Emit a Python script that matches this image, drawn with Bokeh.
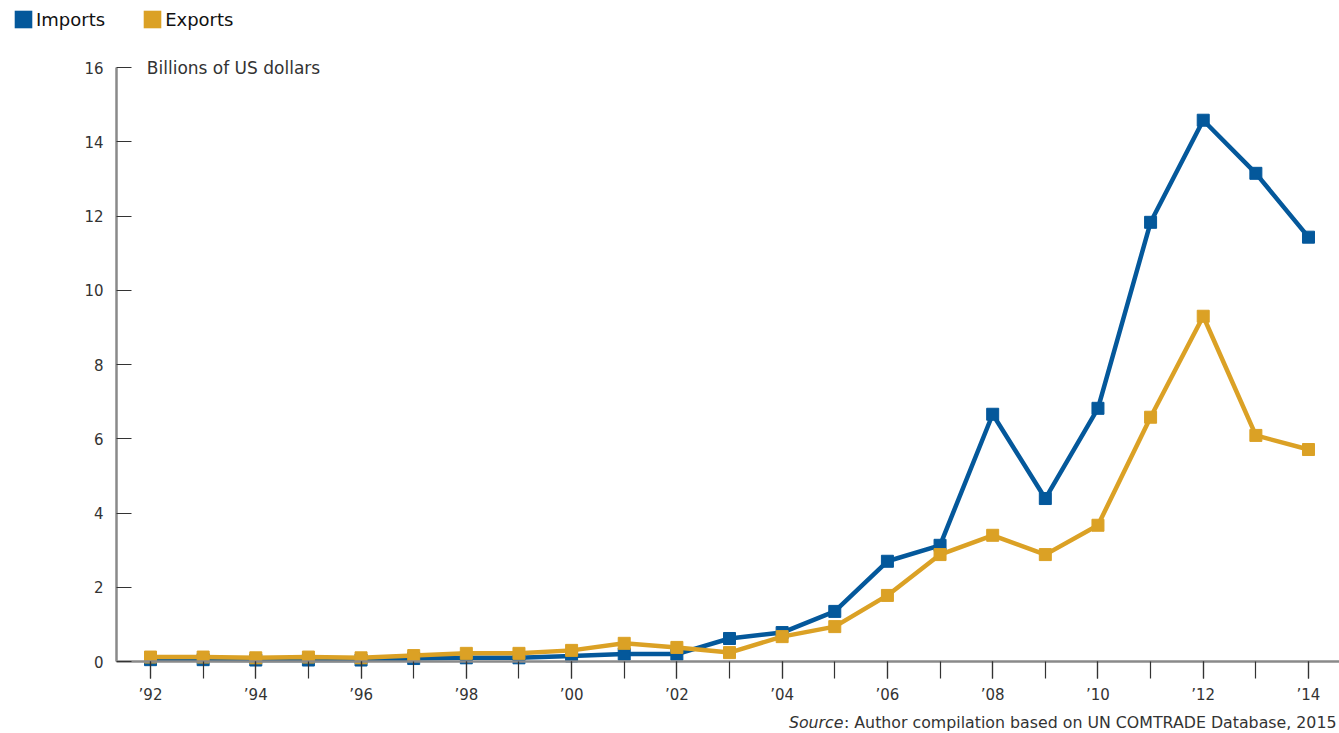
from bokeh.plotting import figure
from bokeh.models import Range1d, SingleIntervalTicker, Label, Legend, LegendItem, FixedTicker
from bokeh.embed import file_html
from bokeh.resources import INLINE

years = list(range(1992, 2015))
imports = [0.05, 0.05, 0.04, 0.04, 0.04, 0.08, 0.10, 0.10, 0.15, 0.20, 0.20,
           0.62, 0.78, 1.35, 2.70, 3.13, 6.66, 4.39, 6.82, 11.83, 14.58, 13.15, 11.43]
exports = [0.12, 0.12, 0.10, 0.12, 0.10, 0.16, 0.22, 0.22, 0.30, 0.49, 0.38,
           0.24, 0.67, 0.94, 1.78, 2.88, 3.40, 2.88, 3.67, 6.58, 9.30, 6.09, 5.71]
series_names = ["Imports", "Exports"]
label_years = list(range(1992, 2015, 2))
tick_labels = ["\u2019" + str(y)[2:] for y in label_years]
y_ticks = list(range(0, 17, 2))
y_title = "Billions of US dollars"
source_prefix = "Source"
source_rest = ": Author compilation based on UN COMTRADE Database, 2015"

IMP = "#04589B"
EXP = "#DBA125"
FONT = "DejaVu Sans"
GREY = "#8a8a8a"
TXT = "#333333"
W, H = 1339, 733
NAN = float("nan")

# frame covers the whole canvas; axes are pinned with fixed_location
X0, X1 = 1989.150, 2014.589
Y0, Y1 = -1.939, 17.805
X_AXIS_AT = 1991.354

p = figure(width=W, height=H, output_backend="svg", toolbar_location=None,
           x_range=Range1d(X0, X1), y_range=Range1d(Y0, Y1), min_border=0)
p.outline_line_color = None
p.xgrid.grid_line_color = None
p.ygrid.grid_line_color = None

p.line(years, imports, line_color=IMP, line_width=4.5)
p.scatter(years, imports, marker="square", size=12, fill_color=IMP, line_color=IMP)
p.line(years, exports, line_color=EXP, line_width=4.5)
p.scatter(years, exports, marker="square", size=12, fill_color=EXP, line_color=EXP)

xa = p.xaxis[0]
xa.fixed_location = 0
xa.bounds = (X_AXIS_AT, X1)
xa.ticker = SingleIntervalTicker(interval=2, num_minor_ticks=2)
xa.major_label_overrides = {y: t for y, t in zip(label_years, tick_labels)}
xa.axis_line_color = GREY
xa.axis_line_width = 2.5
xa.major_tick_line_color = TXT
xa.minor_tick_line_color = TXT
xa.major_tick_line_width = 1.2
xa.minor_tick_line_width = 1.2
xa.major_tick_in = 0
xa.major_tick_out = 17
xa.minor_tick_in = 0
xa.minor_tick_out = 17
xa.major_label_standoff = 7
xa.major_label_text_font = FONT
xa.major_label_text_font_size = "15px"
xa.major_label_text_color = TXT

ya = p.yaxis[0]
ya.fixed_location = X_AXIS_AT
ya.bounds = (0, 16)
ya.ticker = FixedTicker(ticks=y_ticks)
ya.axis_line_color = GREY
ya.axis_line_width = 2.5
ya.major_tick_line_color = TXT
ya.major_tick_line_width = 1.2
ya.major_tick_in = 15
ya.major_tick_out = 0
ya.minor_tick_line_color = None
ya.major_label_standoff = 13
ya.major_label_text_font = FONT
ya.major_label_text_font_size = "15px"
ya.major_label_text_color = TXT

p.add_layout(Label(x=1991.93, y=16, text=y_title, text_font=FONT,
                   text_font_size="17px", text_color=TXT, text_baseline="middle"))

# legend swatches (no visible data; only used for legend squares)
r_imp = p.quad(left=[NAN], right=[NAN], top=[NAN], bottom=[NAN], fill_color=IMP, line_color=None)
r_exp = p.quad(left=[NAN], right=[NAN], top=[NAN], bottom=[NAN], fill_color=EXP, line_color=None)
legend = Legend(items=[LegendItem(label=series_names[0], renderers=[r_imp]),
                       LegendItem(label=series_names[1], renderers=[r_exp])],
                orientation="horizontal", location=(12, H - 8 - 22),
                glyph_width=22, glyph_height=22, label_standoff=2, spacing=36,
                padding=0, margin=0, border_line_color=None, background_fill_alpha=0,
                label_text_font=FONT, label_text_font_size="18px", label_text_color="#111111",
                label_height=22)
p.add_layout(legend, "center")

rest_w = 493
p.add_layout(Label(x=W - 3, y=11, x_units="screen", y_units="screen", text=source_rest,
                   text_font=FONT, text_font_size="15.8px", text_color=TXT,
                   text_align="right", text_baseline="alphabetic"))
p.add_layout(Label(x=W - 3 - rest_w, y=11, x_units="screen", y_units="screen", text=source_prefix,
                   text_font=FONT, text_font_style="italic", text_font_size="15.8px",
                   text_color=TXT, text_align="right", text_baseline="alphabetic"))

open("out.html", "w").write(file_html(p, INLINE))
